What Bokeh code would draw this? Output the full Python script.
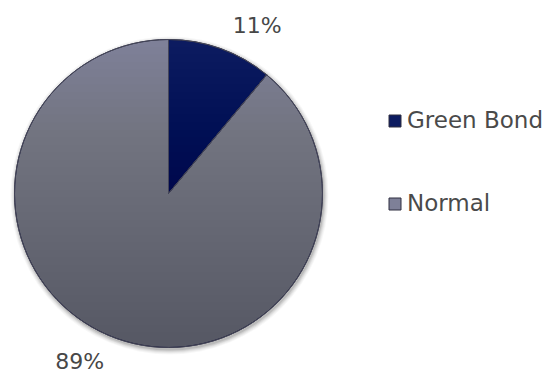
import math
import numpy as np
from bokeh.plotting import figure
from bokeh.models import ColumnDataSource, Range1d, Legend, LegendItem
from bokeh.core.properties import value
from bokeh.embed import file_html
from bokeh.resources import INLINE

categories = ["Green Bond", "Normal"]
shares = [11, 89]
labels = ["11%", "89%"]
colors = ["#0c1b60", "#7e8098"]

total = float(sum(shares))
starts, ends, lx, ly = [], [], [], []
cx, cy, r = 168, 181, 154
cum = 0.0
for s in shares:
    a_end = math.pi / 2 - 2 * math.pi * cum / total
    cum += s
    a_start = math.pi / 2 - 2 * math.pi * cum / total
    starts.append(a_start)
    ends.append(a_end)
    mid = (a_start + a_end) / 2 - math.radians(8)
    lx.append(cx + 1.235 * r * math.cos(mid))
    ly.append(cy + 1.235 * r * math.sin(mid))

src = ColumnDataSource(dict(cat=categories, start=starts, end=ends, color=colors,
                            lx=lx, ly=ly, lab=labels, x=[cx] * 2, y=[cy] * 2))

p = figure(width=549, height=374, output_backend="svg", toolbar_location=None,
           x_range=Range1d(0, 549), y_range=Range1d(0, 374), min_border=0)
p.axis.visible = False
p.grid.visible = False
p.outline_line_color = None
p.background_fill_color = "white"

# soft shadow under the pie
for k, a in [(5, 0.03), (4, 0.04), (3, 0.05), (2, 0.07), (1, 0.10)]:
    p.circle(x=[cx + 1], y=[cy - 2], radius=r + k, fill_color="#000000",
             fill_alpha=a, line_color=None)

w = p.wedge(x="x", y="y", radius=r, start_angle="start", end_angle="end",
            fill_color="color", line_color="#2e2f40", line_width=1, source=src)

# vertical shading: nested circular segments, darker towards the bottom
n_layers = 40
xs_l, ys_l = [], []
for k in range(1, n_layers + 1):
    yk = cy + r - 2 * r * k / (n_layers + 1)
    phi = math.asin((yk - cy) / r)
    t = np.linspace(phi, math.pi - phi - 2 * math.pi, 120)
    xs_l.append(list(cx + r * np.cos(t)))
    ys_l.append(list(cy + r * np.sin(t)))
p.patches(xs=xs_l, ys=ys_l, fill_color="#12143a", fill_alpha=0.009,
          line_color=None)

# outlines
p.wedge(x="x", y="y", radius=r, start_angle="start", end_angle="end",
        fill_alpha=0, line_color="#45465a", line_width=1, source=src)

p.text(x="lx", y="ly", text="lab", source=src, text_font=value("DejaVu Sans"),
       text_font_size="22px", text_color="#474747", text_align="center",
       text_baseline="middle")

legend = Legend(items=[LegendItem(label=c, renderers=[w], index=i)
                       for i, c in enumerate(categories)],
                location=(387, 158), padding=0, margin=0, spacing=57,
                glyph_width=15, glyph_height=15, label_standoff=5,
                label_text_font="DejaVu Sans", label_text_font_size="23px",
                label_text_color="#4a4a4a", border_line_color=None,
                background_fill_alpha=0)
p.add_layout(legend)

open("out.html", "w").write(file_html(p, INLINE))
